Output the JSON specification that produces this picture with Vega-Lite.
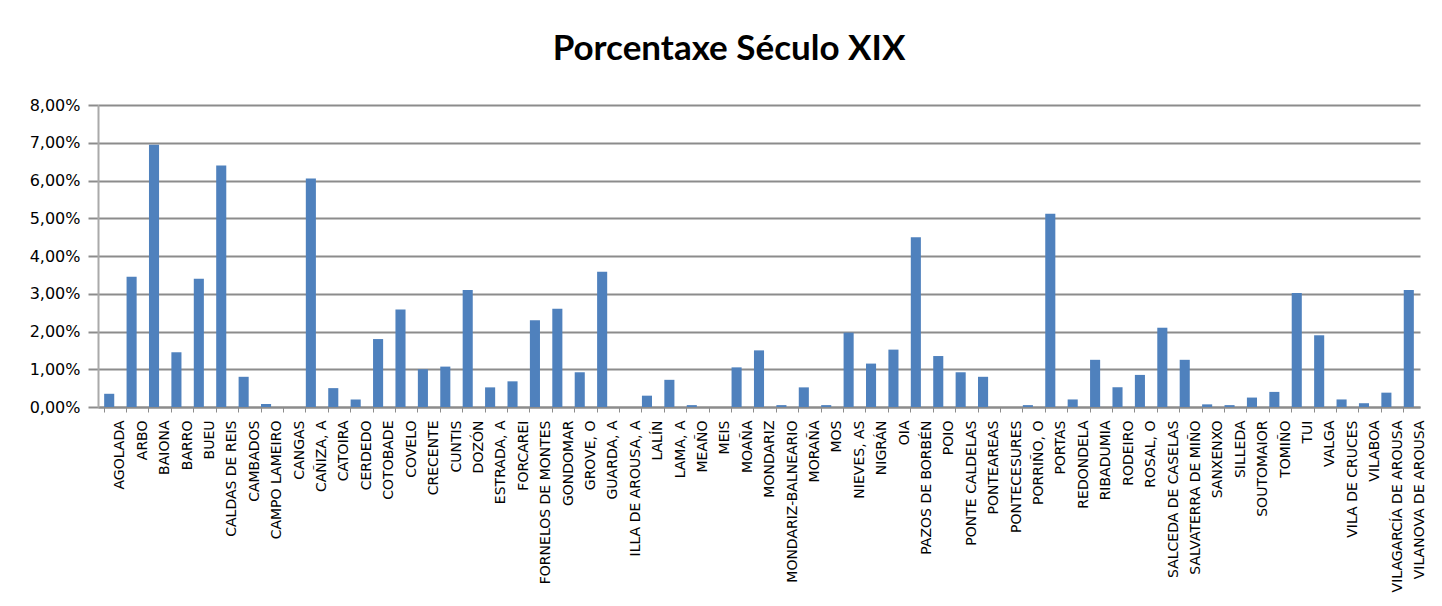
{
  "$schema": "https://vega.github.io/schema/vega-lite/v6.json",
  "width": 1322,
  "height": 302,
  "autosize": {"type": "none"},
  "padding": {"left": 98, "top": 105, "right": 22, "bottom": 199},
  "background": "white",
  "title": {
    "text": "Porcentaxe Século XIX",
    "fontSize": 35,
    "font": "Lato",
    "fontWeight": "bold",
    "color": "#000000",
    "anchor": "middle",
    "dx": -30,
    "offset": 30
  },
  "data": {
    "values": [
      {"concello": "AGOLADA", "pct": 0.0035},
      {"concello": "ARBO", "pct": 0.0345},
      {"concello": "BAIONA", "pct": 0.0695},
      {"concello": "BARRO", "pct": 0.0145},
      {"concello": "BUEU", "pct": 0.034},
      {"concello": "CALDAS DE REIS", "pct": 0.064},
      {"concello": "CAMBADOS", "pct": 0.008},
      {"concello": "CAMPO LAMEIRO", "pct": 0.0008},
      {"concello": "CANGAS", "pct": 0},
      {"concello": "CAÑIZA, A", "pct": 0.0605},
      {"concello": "CATOIRA", "pct": 0.005},
      {"concello": "CERDEDO", "pct": 0.002},
      {"concello": "COTOBADE", "pct": 0.018},
      {"concello": "COVELO", "pct": 0.0258},
      {"concello": "CRECENTE", "pct": 0.01},
      {"concello": "CUNTIS", "pct": 0.0107},
      {"concello": "DOZÓN", "pct": 0.031},
      {"concello": "ESTRADA, A", "pct": 0.0052},
      {"concello": "FORCAREI", "pct": 0.0068},
      {"concello": "FORNELOS DE MONTES", "pct": 0.023},
      {"concello": "GONDOMAR", "pct": 0.026},
      {"concello": "GROVE, O", "pct": 0.0092},
      {"concello": "GUARDA, A", "pct": 0.0358},
      {"concello": "ILLA DE AROUSA, A", "pct": 0},
      {"concello": "LALÍN", "pct": 0.003},
      {"concello": "LAMA, A", "pct": 0.0072},
      {"concello": "MEAÑO", "pct": 0.0005},
      {"concello": "MEIS", "pct": 0},
      {"concello": "MOAÑA", "pct": 0.0105},
      {"concello": "MONDARIZ", "pct": 0.015},
      {"concello": "MONDARIZ-BALNEARIO", "pct": 0.0005},
      {"concello": "MORAÑA", "pct": 0.0052},
      {"concello": "MOS", "pct": 0.0005},
      {"concello": "NIEVES, AS", "pct": 0.0197},
      {"concello": "NIGRÁN", "pct": 0.0115},
      {"concello": "OIA", "pct": 0.0152},
      {"concello": "PAZOS DE BORBÉN", "pct": 0.045},
      {"concello": "POIO", "pct": 0.0135},
      {"concello": "PONTE CALDELAS", "pct": 0.0092},
      {"concello": "PONTEAREAS", "pct": 0.008},
      {"concello": "PONTECESURES", "pct": 0},
      {"concello": "PORRIÑO, O", "pct": 0.0005},
      {"concello": "PORTAS", "pct": 0.0512},
      {"concello": "REDONDELA", "pct": 0.002},
      {"concello": "RIBADUMIA", "pct": 0.0125},
      {"concello": "RODEIRO", "pct": 0.0052},
      {"concello": "ROSAL, O", "pct": 0.0085},
      {"concello": "SALCEDA DE CASELAS", "pct": 0.021},
      {"concello": "SALVATERRA DE MIÑO", "pct": 0.0125},
      {"concello": "SANXENXO", "pct": 0.0007},
      {"concello": "SILLEDA", "pct": 0.0005},
      {"concello": "SOUTOMAIOR", "pct": 0.0025},
      {"concello": "TOMIÑO", "pct": 0.004},
      {"concello": "TUI", "pct": 0.0302},
      {"concello": "VALGA", "pct": 0.019},
      {"concello": "VILA DE CRUCES", "pct": 0.002},
      {"concello": "VILABOA", "pct": 0.001},
      {"concello": "VILAGARCÍA DE AROUSA", "pct": 0.0038},
      {"concello": "VILANOVA DE AROUSA", "pct": 0.031}
    ]
  },
  "mark": {"type": "bar", "color": "#4F81BD"},
  "encoding": {
    "x": {
      "field": "concello",
      "type": "nominal",
      "sort": null,
      "scale": {"paddingInner": 0.55, "paddingOuter": 0.275},
      "axis": {
        "title": null,
        "labelAngle": -90,
        "labelAlign": "right",
        "labelBaseline": "middle",
        "labelFont": "DejaVu Sans",
        "labelFontSize": 14,
        "labelColor": "#000000",
        "labelPadding": 8,
        "bandPosition": 0,
        "labelOffset": 11.2,
        "tickColor": "#8c8c8c",
        "tickSize": 5,
        "domainColor": "#8c8c8c",
        "domainWidth": 2,
        "labelOverlap": false,
        "labelLimit": 200
      }
    },
    "y": {
      "field": "pct",
      "type": "quantitative",
      "scale": {"domain": [0, 0.08]},
      "axis": {
        "title": null,
        "values": [0, 0.01, 0.02, 0.03, 0.04, 0.05, 0.06, 0.07, 0.08],
        "labelExpr": "replace(format(datum.value, '.2%'), '.', ',')",
        "labelFont": "DejaVu Sans",
        "labelFontSize": 16,
        "labelColor": "#000000",
        "labelPadding": 8,
        "tickSize": 10,
        "tickColor": "#8c8c8c",
        "tickWidth": 2,
        "domainColor": "#aaaaaa",
        "domainWidth": 2,
        "grid": true,
        "gridColor": "#8c8c8c",
        "gridWidth": 2
      }
    }
  },
  "config": {"view": {"stroke": null}}
}
